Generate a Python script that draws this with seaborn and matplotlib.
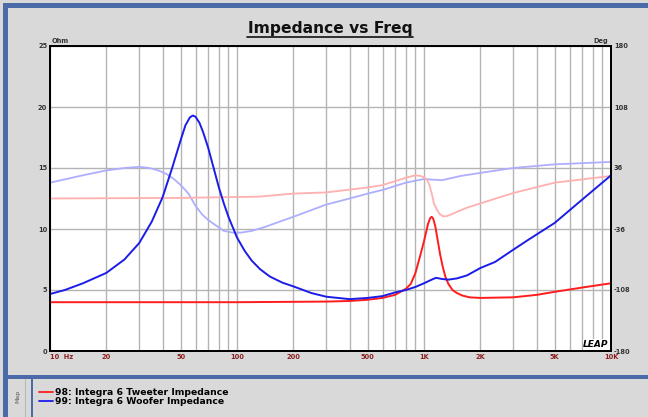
import matplotlib
matplotlib.use("Agg")
import matplotlib.pyplot as plt
from matplotlib.lines import Line2D
from matplotlib.patches import Rectangle
from matplotlib.ticker import FixedLocator, NullLocator
import pandas as pd
import seaborn as sns

# --- DATA ---
woofer_freq = [10, 12, 15, 20, 25, 30, 35, 40, 45, 50, 53, 56, 58, 60, 63, 66, 70, 75, 80,
               85, 90, 100, 110, 120, 133, 150, 175, 200, 250, 300, 400, 500, 600, 700,
               800, 900, 1000, 1100, 1160, 1250, 1350, 1500, 1700, 2000, 2400, 3000,
               3600, 5000, 7000, 10000]
woofer_ohm = [4.67, 5.0, 5.55, 6.4, 7.5, 8.85, 10.6, 12.6, 15.0, 17.3, 18.5, 19.15, 19.3,
              19.2, 18.7, 17.9, 16.7, 15.0, 13.4, 12.1, 11.0, 9.3, 8.2, 7.4, 6.7, 6.1,
              5.6, 5.3, 4.75, 4.45, 4.25, 4.35, 4.5, 4.8, 5.0, 5.25, 5.55, 5.85, 6.0,
              5.9, 5.85, 5.95, 6.2, 6.8, 7.3, 8.3, 9.1, 10.5, 12.4, 14.4]

tweeter_freq = [10, 100, 300, 400, 500, 600, 700, 800, 850, 900, 950, 1000, 1050, 1080,
                1100, 1120, 1150, 1180, 1220, 1260, 1300, 1350, 1420, 1500, 1600, 1750,
                2000, 3000, 4000, 5000, 7000, 10000]
tweeter_ohm = [4.0, 4.0, 4.05, 4.1, 4.2, 4.35, 4.6, 5.1, 5.5, 6.4, 7.7, 9.0, 10.4, 10.9,
               11.0, 10.85, 10.2, 9.2, 7.9, 6.9, 6.1, 5.5, 5.0, 4.75, 4.55, 4.4, 4.35,
               4.4, 4.6, 4.85, 5.2, 5.55]

woofer_ph_freq = [10, 15, 20, 25, 30, 34, 38, 42, 46, 50, 55, 60, 65, 70, 77, 85, 95, 105,
                  120, 140, 200, 300, 400, 500, 600, 800, 1000, 1100, 1250, 1570, 2000,
                  3000, 5000, 10000]
woofer_deg = [18.7, 27.4, 33.1, 36.0, 37.4, 36.0, 33.1, 28.8, 23.0, 15.8, 5.8, -8.6,
              -18.7, -25.2, -31.7, -38.2, -40.3, -40.3, -38.2, -33.8, -21.6, -7.2, 0.0,
              5.8, 10.1, 18.7, 23.0, 22.3, 21.6, 26.6, 30.2, 36.0, 40.3, 43.2]

tweeter_ph_freq = [10, 50, 131, 200, 300, 500, 600, 800, 900, 960, 1000, 1040, 1070, 1100,
                   1130, 1170, 1210, 1260, 1320, 1400, 1500, 1700, 2000, 3000, 5000, 10000]
tweeter_deg = [0.0, 0.7, 2.2, 5.8, 7.2, 13.0, 15.8, 24.5, 27.4, 26.6, 25.2, 21.6, 15.8,
               5.8, -5.8, -13.0, -18.0, -20.9, -20.9, -18.7, -15.8, -10.8, -5.8, 6.5,
               18.7, 26.6]

grid_freqs = [10, 20, 30, 40, 50, 60, 70, 80, 90, 100, 200, 300, 400, 500, 600, 700, 800,
              900, 1000, 2000, 3000, 4000, 5000, 6000, 7000, 8000, 9000, 10000]
freq_labels = {10: "10  Hz", 20: "20", 50: "50", 100: "100", 200: "200", 500: "500",
               1000: "1K", 2000: "2K", 5000: "5K", 10000: "10K"}
ohm_ticks = [0, 5, 10, 15, 20, 25]
deg_ticks = [-180, -108, -36, 36, 108, 180]

legend_labels = ["98: Integra 6 Tweeter Impedance", "99: Integra 6 Woofer Impedance"]

RED, BLUE = "#ff1c1c", "#1c1ce8"
LRED, LBLUE = "#ffb0b0", "#aeaeff"
BG = "#d9d9d9"
FRAME = "#4a6aa8"

sns.set_style("white")
plt.rcParams["font.family"] = ["DejaVu Sans"]

W, H = 648, 417
fig = plt.figure(figsize=(W / 100, H / 100), dpi=100, facecolor=BG)


def fx(px):
    return px / W


def fy(py):
    return 1 - py / H


# main axes (ohm) on top, phase axes underneath carrying grid
ax = fig.add_axes([fx(50), fy(351), fx(611) - fx(50), fy(46) - fy(351)])
ax.set_xscale("log")
ax2 = ax.twinx()
ax.set_zorder(ax2.get_zorder() + 1)
ax.patch.set_visible(False)
ax2.patch.set_visible(True)
ax2.patch.set_facecolor("white")

# phase curves (light)
sns.lineplot(data=pd.DataFrame({"f": woofer_ph_freq, "d": woofer_deg}), x="f", y="d",
             ax=ax2, color=LBLUE, lw=1.3)
sns.lineplot(data=pd.DataFrame({"f": tweeter_ph_freq, "d": tweeter_deg}), x="f", y="d",
             ax=ax2, color=LRED, lw=1.3)

# impedance curves
sns.lineplot(data=pd.DataFrame({"f": tweeter_freq, "z": tweeter_ohm}), x="f", y="z",
             ax=ax, color=RED, lw=1.4)
sns.lineplot(data=pd.DataFrame({"f": woofer_freq, "z": woofer_ohm}), x="f", y="z",
             ax=ax, color=BLUE, lw=1.4)

ax.set_xlim(10, 10000)
ax.set_ylim(0, 25)
ax2.set_ylim(-180, 180)
ax.set_xlabel("")
ax.set_ylabel("")
ax2.set_xlabel("")
ax2.set_ylabel("")

ax.xaxis.set_major_locator(FixedLocator(grid_freqs))
ax.xaxis.set_minor_locator(NullLocator())
ax.set_xticklabels([freq_labels.get(f, "") for f in grid_freqs])
ax.set_yticks(ohm_ticks)
ax.set_yticklabels([str(t) for t in ohm_ticks])
ax2.set_yticks(deg_ticks)
ax2.set_yticklabels([str(t) for t in deg_ticks])

ax.tick_params(axis="x", length=0, pad=2, labelsize=4.8, labelcolor="#8b1f1f")
ax.tick_params(axis="y", length=0, pad=2, labelsize=4.8, labelcolor="#333333")
ax2.tick_params(axis="y", length=0, pad=2, labelsize=4.8, labelcolor="#333333")
for lbl in ax.get_xticklabels() + ax.get_yticklabels() + ax2.get_yticklabels():
    lbl.set_fontweight("bold")
ax.get_xticklabels()[0].set_horizontalalignment("left")

ax2.xaxis.set_visible(True)
ax2.tick_params(axis="x", labelbottom=False, length=0)
ax2.grid(True, axis="both", color="#b4b4b4", lw=1.0)
ax.grid(False)

for a in (ax, ax2):
    for s in a.spines.values():
        s.set_color("black")
        s.set_linewidth(1.3)

# axis unit labels
fig.text(fx(52), fy(44), "Ohm", fontsize=4.8, fontweight="bold", color="#333333",
         ha="left", va="bottom")
fig.text(fx(608), fy(44), "Deg", fontsize=4.8, fontweight="bold", color="#333333",
         ha="right", va="bottom")

ax.text(0.996, 0.006, "LEAP", transform=ax.transAxes, ha="right", va="bottom",
        fontsize=6.5, fontweight="heavy", style="italic", color="black",
        bbox=dict(facecolor="white", edgecolor="none", pad=0.5), zorder=5)

# title with underline
fig.text(fx(330), fy(33), "Impedance vs Freq", fontsize=11.2, fontweight="bold",
         ha="center", va="baseline", color="#111111")
fig.add_artist(Line2D([fx(247), fx(413)], [fy(36.5), fy(36.5)], transform=fig.transFigure,
                      color="#111111", lw=1.2))

# window frame
for x0, y0, x1, y1 in [(3, 3, 648, 8), (3, 3, 8, 417), (3, 375, 648, 379), (31, 379, 33, 417)]:
    fig.add_artist(Rectangle((fx(x0), fy(y1)), fx(x1) - fx(x0), fy(y0) - fy(y1),
                             transform=fig.transFigure, facecolor=FRAME, edgecolor="none"))
fig.add_artist(Line2D([fx(25), fx(25)], [fy(379), fy(417)], transform=fig.transFigure,
                      color="#b8b8b8", lw=0.8))
fig.text(fx(18), fy(396), "Map", rotation=90, fontsize=4.5, color="#555555",
         ha="center", va="center")

# legend
handles = [Line2D([], [], color=RED, lw=1.3), Line2D([], [], color=BLUE, lw=1.3)]
fig.legend(handles, legend_labels, loc="upper left", bbox_to_anchor=(fx(39), fy(388)),
           frameon=False, borderpad=0, borderaxespad=0, handlelength=1.5,
           handletextpad=0.25, labelspacing=0.05, labelcolor="black",
           prop={"size": 6.7, "weight": "bold"})

fig.savefig("out.png", dpi=100, facecolor=BG)
